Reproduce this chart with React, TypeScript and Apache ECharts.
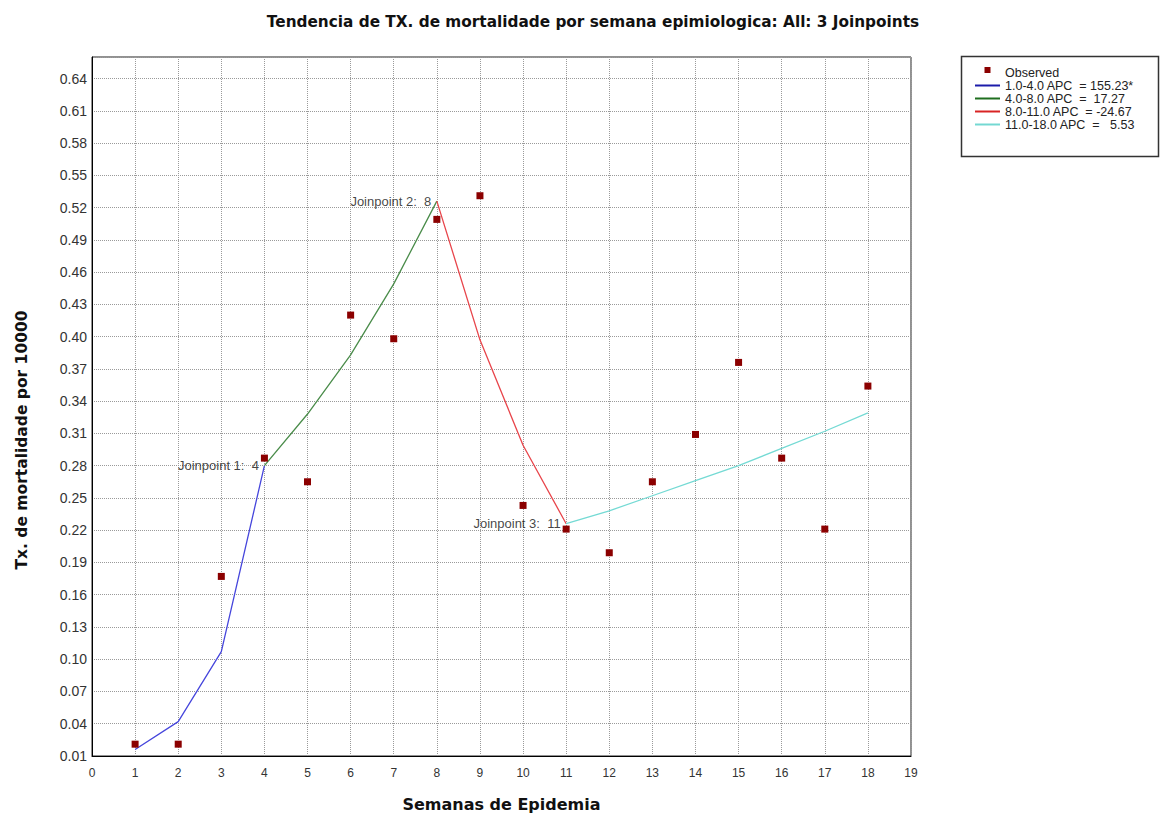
import React, { useEffect, useRef } from "react";
import * as echarts from "echarts";

const weeks = [1, 2, 3, 4, 5, 6, 7, 8, 9, 10, 11, 12, 13, 14, 15, 16, 17, 18];
const observed = [0.021, 0.021, 0.177, 0.287, 0.265, 0.42, 0.398, 0.509, 0.531, 0.243, 0.221, 0.199, 0.265, 0.309, 0.376, 0.287, 0.221, 0.354];

const seg1Weeks = [1, 2, 3, 4];
const seg1Values = [0.016, 0.042, 0.107, 0.28];
const seg2Weeks = [4, 5, 6, 7, 8];
const seg2Values = [0.28, 0.328, 0.383, 0.449, 0.526];
const seg3Weeks = [8, 9, 10, 11];
const seg3Values = [0.526, 0.397, 0.299, 0.226];
const seg4Weeks = [11, 12, 13, 14, 15, 16, 17, 18];
const seg4Values = [0.226, 0.238, 0.252, 0.266, 0.28, 0.296, 0.312, 0.329];

const joinpointWeeks = [4, 8, 11];
const joinpointValues = [0.28, 0.526, 0.226];
const joinpointLabels = ["Joinpoint 1:  4", "Joinpoint 2:  8", "Joinpoint 3:  11"];

const legendNames = [
  "Observed",
  "1.0-4.0 APC  = 155.23*",
  "4.0-8.0 APC  =  17.27",
  "8.0-11.0 APC  = -24.67",
  "11.0-18.0 APC  =   5.53",
];

const lineColors = ["#4646dc", "#4a8c4a", "#e8454b", "#74dad4"];
const legendLineColors = ["#1c1caa", "#1f6e1f", "#d82424", "#74d8d2"];

const FONT = '"Liberation Sans", Arial, sans-serif';
const BOLD = '"DejaVu Sans", Verdana, sans-serif';

function pairs(xs: number[], ys: number[]) {
  return xs.map((x, i) => [x, ys[i]]);
}

export default function App() {
  const ref = useRef<HTMLDivElement>(null);
  useEffect(() => {
    if (!ref.current) return;
    const chart = echarts.init(ref.current, undefined, { renderer: "svg" });
    const segs = [
      pairs(seg1Weeks, seg1Values),
      pairs(seg2Weeks, seg2Values),
      pairs(seg3Weeks, seg3Values),
      pairs(seg4Weeks, seg4Values),
    ];
    const lineSeries = segs.map((d, i) => ({
      name: legendNames[i + 1],
      type: "line",
      data: d,
      symbol: "none",
      showSymbol: false,
      color: lineColors[i],
      lineStyle: { width: 1.3, color: lineColors[i] },
      z: 3,
    }));
    chart.setOption({
      animation: false,
      backgroundColor: "#ffffff",
      title: {
        text: "Tendencia de TX. de mortalidade por semana epimiologica: All: 3 Joinpoints",
        left: 588,
        top: 9,
        textAlign: "center",
        textStyle: { fontFamily: BOLD, fontWeight: "bold", fontSize: 15.3, color: "#111" },
      },
      grid: {
        left: 92,
        right: 252,
        top: 57,
        bottom: 59,
        show: true,
        borderColor: "#222",
        borderWidth: 1,
        backgroundColor: "#fff",
      },
      legend: {
        data: [
          {
            name: legendNames[0],
            icon: "path://M0,0M25,12M9.5,0.5h6v6h-6z",
            itemStyle: { color: "#8b0000" },
          },
          ...legendNames.slice(1).map((n, i) => ({
            name: n,
            icon: "path://M0,0M25,12M0,5h25v2h-25z",
            itemStyle: { color: legendLineColors[i], borderWidth: 0 },
            lineStyle: { width: 0 },
          })),
        ],
        orient: "vertical",
        left: 975,
        top: 66,
        itemWidth: 25,
        itemHeight: 12,
        itemGap: 0.7,
        padding: 0,
        textStyle: { fontFamily: FONT, fontSize: 12.5, color: "#222", lineHeight: 12 },
      },
      xAxis: {
        type: "value",
        min: 0,
        max: 19,
        interval: 1,
        name: "Semanas de Epidemia",
        nameLocation: "middle",
        nameGap: 40,
        nameTextStyle: { fontFamily: BOLD, fontWeight: "bold", fontSize: 16, color: "#111" },
        axisLine: { show: true, lineStyle: { color: "#000", width: 1 } },
        axisTick: { show: false },
        axisLabel: { fontFamily: FONT, fontSize: 12, color: "#333", margin: 11 },
        splitLine: { show: true, lineStyle: { type: "dotted", color: "#9a9a9a", width: 1 } },
      },
      yAxis: {
        type: "value",
        min: 0.01,
        max: 0.66,
        interval: 0.03,
        axisLine: { show: true, lineStyle: { color: "#000", width: 1 } },
        axisTick: { show: false },
        axisLabel: {
          fontFamily: FONT,
          fontSize: 14,
          color: "#333",
          margin: 5,
          showMaxLabel: false,
          formatter: (v: number) => v.toFixed(2),
        },
        splitLine: { show: true, lineStyle: { type: "dotted", color: "#9a9a9a", width: 1 } },
      },
      graphic: [
        {
          type: "text",
          x: 22,
          y: 440,
          rotation: Math.PI / 2,
          style: {
            text: "Tx. de mortalidade por 10000",
            fontFamily: BOLD,
            fontWeight: "bold",
            fontSize: 15.5,
            fill: "#111",
            align: "center",
            verticalAlign: "middle",
          },
        },
        {
          type: "rect",
          shape: { x: 961.5, y: 56.5, width: 197, height: 100 },
          style: { fill: "none", stroke: "#333", lineWidth: 1.5 },
          z: 10,
        },
      ],
      series: [
        ...lineSeries,
        {
          name: legendNames[0],
          type: "scatter",
          data: pairs(weeks, observed),
          symbol: "rect",
          symbolSize: 7,
          itemStyle: { color: "#8b0000", opacity: 1 },
          z: 4,
        },
        {
          name: "joinpoints",
          type: "scatter",
          data: joinpointWeeks.map((w, i) => ({
            value: [w, joinpointValues[i]],
            label: { formatter: joinpointLabels[i] },
          })),
          symbol: "circle",
          symbolSize: 1,
          itemStyle: { color: "rgba(0,0,0,0)" },
          label: {
            show: true,
            position: "left",
            distance: 5,
            fontFamily: FONT,
            fontSize: 13,
            color: "#111",
          },
          z: 5,
        },
      ],
    });
    chart.setOption({ legend: { itemGap: 0, top: 66 } });
    return () => chart.dispose();
  }, []);
  return (
    <div
      ref={ref}
      style={{ position: "fixed", left: 0, top: 0, width: 1163, height: 817, background: "#fff" }}
    />
  );
}
